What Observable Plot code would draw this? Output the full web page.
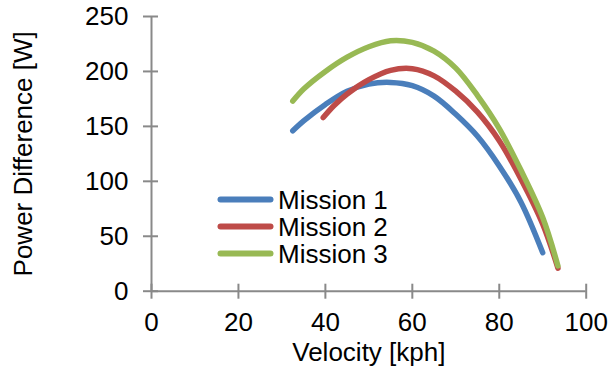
<!DOCTYPE html>
<html><head><meta charset="utf-8">
<script src="https://cdn.jsdelivr.net/npm/d3@7"></script>
<script src="https://cdn.jsdelivr.net/npm/@observablehq/plot@0.6"></script>
<style>
html,body{margin:0;padding:0;background:#fff;}
#chart{position:relative;width:611px;height:366px;overflow:hidden;}
#legend{position:absolute;left:0;top:0;}
</style></head><body><div id="chart"></div>
<script>
const seriesNames = ["Mission 1", "Mission 2", "Mission 3"];
const seriesColors = ["#4A7EBB", "#BE4B48", "#98B954"];

const m1Velocity = [32.5, 35, 40, 45, 50, 55, 60, 65, 70, 75, 80, 85, 90];
const m1Power    = [146, 155, 170, 182, 188.5, 190, 187, 177.5, 161, 141, 114, 81, 35];

const m2Velocity = [39.5, 42, 45, 50, 55, 60, 65, 70, 75, 80, 85, 90, 93.5];
const m2Power    = [158, 169, 179.5, 192.5, 201, 202.5, 196, 182, 163, 137, 102, 61, 21];

const m3Velocity = [32.5, 35, 40, 45, 50, 55, 60, 65, 70, 75, 80, 85, 90, 93.5];
const m3Power    = [173, 184, 200, 213, 222.5, 228, 226.5, 218.5, 203, 178, 148, 110, 67, 23];

const xTicks = [0, 20, 40, 60, 80, 100];
const yTicks = [0, 50, 100, 150, 200, 250];
const xLabel = "Velocity [kph]";
const yLabel = "Power Difference [W]";

const seriesX = [m1Velocity, m2Velocity, m3Velocity];
const seriesY = [m1Power, m2Power, m3Power];
const rows = seriesNames.flatMap((name, i) =>
  seriesX[i].map((v, j) => ({series: name, velocity: v, power: seriesY[i][j]})));

const axisColor = "#898989";
const font = "'Liberation Sans', Arial, sans-serif";

const plot = Plot.plot({
  width: 611, height: 366,
  marginLeft: 151, marginRight: 25.3, marginTop: 16, marginBottom: 75.3,
  style: {fontFamily: font, fontSize: "26px", color: "#000", background: "#fff", overflow: "visible"},
  x: {domain: [0, 100]},
  y: {domain: [0, 250]},
  color: {domain: seriesNames, range: seriesColors},
  marks: [
    Plot.ruleX([0], {stroke: axisColor, strokeWidth: 2}),
    Plot.ruleY([0], {stroke: axisColor, strokeWidth: 2}),
    Plot.axisY(yTicks, {tickSize: 15, dx: 7, tickPadding: 15, stroke: axisColor, strokeWidth: 2, fill: "#000", fontSize: 26, label: null}),
    Plot.axisX(xTicks, {tickSize: 15, dy: -7, tickPadding: 13, stroke: axisColor, strokeWidth: 2, fill: "#000", fontSize: 26, label: null}),
    Plot.text([xLabel], {frameAnchor: "bottom", lineAnchor: "bottom", dy: 69.6, fontSize: 26, fill: "#000"}),
    Plot.text([yLabel], {frameAnchor: "left", textAnchor: "middle", lineAnchor: "bottom", rotate: -90, dx: -120, fontSize: 26, fill: "#000"}),
    Plot.line(rows, {x: "velocity", y: "power", z: "series", stroke: "series", strokeWidth: 5.5, curve: "catmull-rom", strokeLinecap: "round", strokeLinejoin: "round"})
  ]
});

const chart = document.getElementById("chart");
chart.appendChild(plot);

// legend overlay
const legend = d3.select(chart).append("svg")
  .attr("id", "legend").attr("width", 611).attr("height", 366)
  .style("font-family", font).style("font-size", "26px");
const legendX = 220.5, legendY = 199.5, legendStep = 27, legendLen = 50;
seriesNames.forEach((name, i) => {
  const y = legendY + i * legendStep;
  legend.append("line")
    .attr("x1", legendX).attr("x2", legendX + legendLen)
    .attr("y1", y).attr("y2", y)
    .attr("stroke", seriesColors[i]).attr("stroke-width", 6)
    .attr("stroke-linecap", "round");
  legend.append("text")
    .attr("x", legendX + legendLen + 7.5).attr("y", y + 9.5)
    .attr("fill", "#000").text(name);
});
</script></body></html>
